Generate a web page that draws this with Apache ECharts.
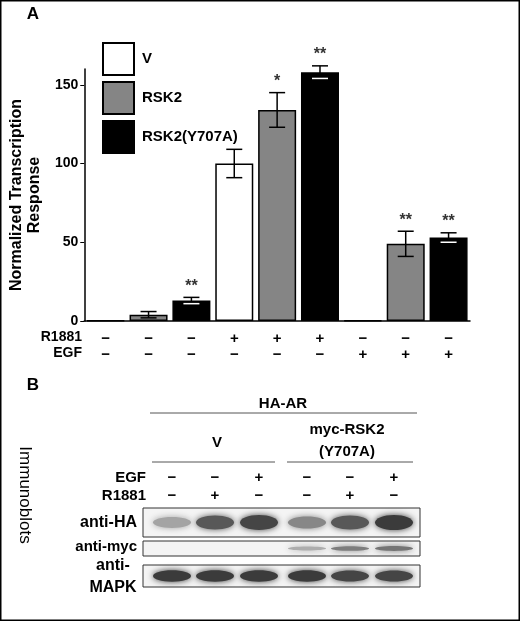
<!DOCTYPE html>
<html><head><meta charset="utf-8">
<script src="https://cdn.jsdelivr.net/npm/echarts@6/dist/echarts.min.js"></script>
<style>html,body{margin:0;background:#fff}#c{width:520px;height:621px}</style>
</head><body><div id="c"></div>
<script>
const categories = ['c1','c2','c3','c4','c5','c6','c7','c8','c9'];
const r1881 = ['−','−','−','+','+','+','−','−','−'];
const egf   = ['−','−','−','−','−','−','+','+','+'];
const values = [0.4, 4, 13, 100, 134, 158, 0.4, 49, 53];
const errors = [0, 2, 2, 9, 11, 4, 0, 8, 3];
const stars  = ['', '', '**', '', '*', '**', '', '**', '**'];
const groups = ['V', 'RSK2', 'RSK2(Y707A)'];
const colors = ['#ffffff', '#858585', '#000000'];
// blot: lane intensities (0..1)
const blotHA   = [0.35, 0.75, 0.85, 0.5, 0.75, 0.9];
const blotMyc  = [0, 0, 0, 0.3, 0.55, 0.6];
const blotMAPK = [0.9, 0.9, 0.9, 0.9, 0.85, 0.85];
const blotEGF   = ['−','−','+','−','−','+'];
const blotR1881 = ['−','+','−','−','+','−'];

const font = 'Liberation Sans, Arial, sans-serif';
const chart = echarts.init(document.getElementById('c'));

const barSeries = groups.map((g, gi) => ({
  name: g, type: 'bar', barWidth: 38, barGap: '-100%',
  itemStyle: {color: colors[gi], borderColor: '#000', borderWidth: 1.5},
  data: values.map((v, i) => i % 3 === gi ? v : '-')
}));

const laneX = [172, 215, 259, 307, 350, 394];
const g = [];
const T = (x, y, text, o) => g.push({type: 'text', x, y, style: Object.assign({text, font: 'bold 15px ' + font, fill: '#000', align: 'center', verticalAlign: 'middle'}, o || {})});
const L = (x1, y1, x2, y2) => g.push({type: 'line', shape: {x1, y1, x2, y2}, style: {stroke: '#555', lineWidth: 1}});
g.push({type: 'rect', shape: {x: 0.5, y: 0.5, width: 519, height: 620}, style: {fill: 'none', stroke: '#000', lineWidth: 2}});
T(33, 14, 'A', {font: 'bold 17px ' + font});
T(33, 385, 'B', {font: 'bold 17px ' + font});
T(82, 337, 'R1881', {align: 'right', font: 'bold 14px ' + font});
T(82, 353, 'EGF', {align: 'right', font: 'bold 14px ' + font});
T(283, 404, 'HA-AR');
L(150, 413, 417, 413);
T(217, 443, 'V');
L(152, 462, 275, 462);
T(347, 430, 'myc-RSK2');
T(347, 452, '(Y707A)');
L(287, 462, 413, 462);
T(146, 478, 'EGF', {align: 'right'});
T(146, 496, 'R1881', {align: 'right'});
laneX.forEach((x, i) => { T(x, 478, blotEGF[i]); T(x, 496, blotR1881[i]); });
T(137, 523, 'anti-HA', {align: 'right', font: 'bold 16px ' + font});
T(137, 547, 'anti-myc', {align: 'right'});
T(113, 566, 'anti-', {font: 'bold 16px ' + font});
T(113, 588, 'MAPK', {font: 'bold 16px ' + font});
g.push({type: 'text', x: 25, y: 495, rotation: -Math.PI / 2, style: {text: 'Immunoblots', font: '17px ' + font, fill: '#000', align: 'center', verticalAlign: 'middle'}});
const blot = (y, h, arr, bh) => {
  g.push({type: 'rect', shape: {x: 143, y, width: 277, height: h}, style: {fill: '#f4f4f4', stroke: '#333', lineWidth: 1}});
  arr.forEach((v, i) => {
    if (v <= 0) return;
    const c = Math.round(230 - v * 190);
    g.push({type: 'ellipse', shape: {cx: laneX[i], cy: y + h / 2, rx: 19, ry: bh * (0.5 + v / 2)},
      style: {fill: `rgb(${c},${c},${c})`, shadowBlur: 6, shadowColor: `rgb(${c},${c},${c})`}});
  });
};
blot(508, 29, blotHA, 8);
blot(541, 15, blotMyc, 3);
blot(565, 22, blotMAPK, 6);

chart.setOption({
  animation: false,
  grid: {left: 83, right: 50, top: 69, bottom: 300},
  legend: {
    orient: 'vertical', left: 97, top: 37, itemWidth: 31, itemHeight: 32, itemGap: 5,
    icon: 'rect', data: groups,
    textStyle: {fontFamily: font, fontWeight: 'bold', fontSize: 15, color: '#000', padding: [0, 0, 0, 3]}
  },
  xAxis: {
    type: 'category', data: categories,
    axisLine: {lineStyle: {color: '#000', width: 1.5}}, axisTick: {show: false},
    axisLabel: {interval: 0, margin: 10, lineHeight: 16, fontFamily: font, fontWeight: 'bold', fontSize: 15, color: '#000',
      formatter: (v, i) => r1881[i] + '\n' + egf[i]}
  },
  yAxis: {
    type: 'value', min: 0, max: 160, interval: 50,
    name: 'Normalized Transcription\nResponse', nameLocation: 'middle', nameGap: 38, nameRotate: 90,
    nameTextStyle: {fontFamily: font, fontWeight: 'bold', fontSize: 16, color: '#000', lineHeight: 18},
    axisLine: {show: true, lineStyle: {color: '#000', width: 1.5}},
    axisTick: {show: true, length: 4, lineStyle: {color: '#000'}},
    splitLine: {show: false},
    axisLabel: {showMaxLabel: false, fontFamily: font, fontWeight: 'bold', fontSize: 14, color: '#000', margin: 6}
  },
  series: barSeries.concat([{
    type: 'custom', z: 5,
    data: values.map((v, i) => [i, v, errors[i], stars[i]]),
    renderItem: (params, api) => {
      const i = api.value(0), v = api.value(1), e = api.value(2);
      const hi = api.coord([i, v + e]), lo = api.coord([i, Math.max(v - e, 0)]);
      const w = 8, ch = [];
      if (e > 0) {
        ch.push({type: 'line', shape: {x1: hi[0], y1: hi[1], x2: lo[0], y2: lo[1]}, style: {stroke: '#000', lineWidth: 1.5}});
        ch.push({type: 'line', shape: {x1: hi[0] - w, y1: hi[1], x2: hi[0] + w, y2: hi[1]}, style: {stroke: '#000', lineWidth: 1.5}});
        ch.push({type: 'line', shape: {x1: lo[0] - w, y1: lo[1], x2: lo[0] + w, y2: lo[1]}, style: {stroke: v > e + 2 ? (i % 3 === 2 ? '#fff' : '#000') : '#000', lineWidth: 1.5}});
      }
      const s = stars[i];
      if (s) ch.push({type: 'text', x: hi[0], y: hi[1] - 3, style: {text: s, font: 'bold 16px ' + font, fill: '#333', align: 'center', verticalAlign: 'bottom'}});
      return {type: 'group', children: ch};
    }
  }]),
  graphic: g
});
</script></body></html>
